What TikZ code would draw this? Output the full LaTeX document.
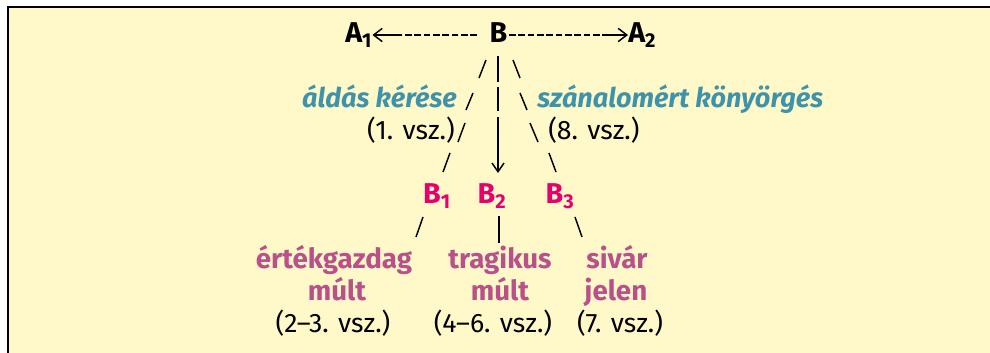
\documentclass[tikz,border=0pt]{standalone}
\usepackage{fontspec}
\setmainfont{Fira Sans}
\usetikzlibrary{arrows.meta}
\definecolor{bgyel}{HTML}{FFF8C8}
\definecolor{tealtxt}{HTML}{3E93AA}
\definecolor{magtxt}{HTML}{E5006D}
\definecolor{plumtxt}{HTML}{B8508A}
\tikzset{
  bigB/.style={font=\fontsize{21.5}{24}\selectfont\bfseries, inner sep=0pt},
  norm/.style={font=\fontsize{20}{24}\selectfont, inner sep=0pt},
  topic/.style={font=\fontsize{20.3}{24}\selectfont\bfseries\itshape, text=tealtxt, inner sep=0pt},
  res/.style={font=\fontsize{20.8}{24}\selectfont\bfseries, text=plumtxt, inner sep=0pt},
  slash/.style={line width=1.1pt},
  dashline/.style={line width=1.2pt, dash pattern=on 4.9pt off 2.1pt},
  tipline/.style={line width=1.1pt, -{Straight Barb[length=6.5pt,width=10pt,line width=1.1pt]}}
}
\begin{document}
\begin{tikzpicture}[x=0.75pt,y=-0.75pt]
\useasboundingbox (0,0) rectangle (990,353);
\fill[bgyel] (8,7) rectangle (990,353);
\draw[line width=1.9pt] (8,353) -- (8,7) -- (990,7);

% top row
\node[bigB, anchor=base west] (A1) at (345,43) {A\textsubscript{1}};
\node[bigB, anchor=base] (B) at (498.5,43) {B};
\node[bigB, anchor=base west] (A2) at (628,43) {A\textsubscript{2}};
\coordinate (ld) at (477,35);
\coordinate (la) at (397,35);
\coordinate (rd) at (509,35);
\coordinate (ra) at (602,35);
\draw[dashline] (ld) -- (la);
\draw[tipline] (la) -- (A1.east |- la);
\draw[dashline] (rd) -- (ra);
\draw[tipline] (ra) -- (A2.west |- ra);

% second/third rows text
\node[topic, anchor=base east] (bless) at (457,108) {áldás kérése};
\node[topic, anchor=base west] (pity) at (537,108) {szánalomért könyörgés};
\node[norm, anchor=base east] (v1) at (455,140) {(1. vsz.)};
\node[norm, anchor=base west] (v8) at (548,140) {(8. vsz.)};

% B row
\node[bigB, text=magtxt, anchor=base] (B1) at (437,204) {B\textsubscript{1}};
\node[bigB, text=magtxt, anchor=base] (B2) at (492,204) {B\textsubscript{2}};
\node[bigB, text=magtxt, anchor=base] (B3) at (560,204) {B\textsubscript{3}};

% bottom rows
\node[res, anchor=base] (r1a) at (334,268) {értékgazdag};
\node[res, anchor=base] (r1b) at (337,300) {múlt};
\node[norm, anchor=base] (r1c) at (333,332) {(2–3. vsz.)};
\node[res, anchor=base] (r2a) at (500,268) {tragikus};
\node[res, anchor=base] (r2b) at (500,300) {múlt};
\node[norm, anchor=base] (r2c) at (493,332) {(4–6. vsz.)};
\node[res, anchor=base] (r3a) at (617,268) {sivár};
\node[res, anchor=base] (r3b) at (616,300) {jelen};
\node[norm, anchor=base] (r3c) at (620,332) {(7. vsz.)};

% left branch B -> B1
\coordinate (l1b) at (479,78); \coordinate (l1t) at (486,60);
\coordinate (l2b) at (466,110); \coordinate (l2t) at (473,93);
\coordinate (l3b) at (458,142); \coordinate (l3t) at (465,123);
\coordinate (l4b) at (443,172); \coordinate (l4t) at (450,153);
\draw[slash] (l1b) -- (l1t);
\draw[slash] (l2b) -- (l2t);
\draw[slash] (l3b) -- (l3t);
\draw[slash] (l4b) -- (l4t);
% middle branch B -> B2
\coordinate (m1t) at (498,56); \coordinate (m1b) at (498,82);
\coordinate (m2t) at (498,87); \coordinate (m2b) at (498,111);
\coordinate (m3t) at (498,117); \coordinate (m3b) at (498,173);
\draw[slash] (m1t) -- (m1b);
\draw[slash] (m2t) -- (m2b);
\draw[tipline, -{Straight Barb[length=6.5pt,width=9pt,line width=1.1pt]}] (m3t) -- (m3b);
% right branch B -> B3
\coordinate (q1t) at (513,60); \coordinate (q1b) at (520,78);
\coordinate (q2t) at (520,93); \coordinate (q2b) at (527,110);
\coordinate (q3t) at (530,123); \coordinate (q3b) at (538,142);
\coordinate (q4t) at (549,153); \coordinate (q4b) at (556,172);
\draw[slash] (q1t) -- (q1b);
\draw[slash] (q2t) -- (q2b);
\draw[slash] (q3t) -- (q3b);
\draw[slash] (q4t) -- (q4b);

% lower connectors
\coordinate (s1b) at (416,237); \coordinate (s1t) at (423,217);
\coordinate (s2t) at (499,216); \coordinate (s2b) at (499,243);
\coordinate (s3t) at (575,217); \coordinate (s3b) at (582,237);
\draw[slash] (s1b) -- (s1t);
\draw[slash] (s2t) -- (s2b);
\draw[slash] (s3t) -- (s3b);
\end{tikzpicture}
\end{document}
